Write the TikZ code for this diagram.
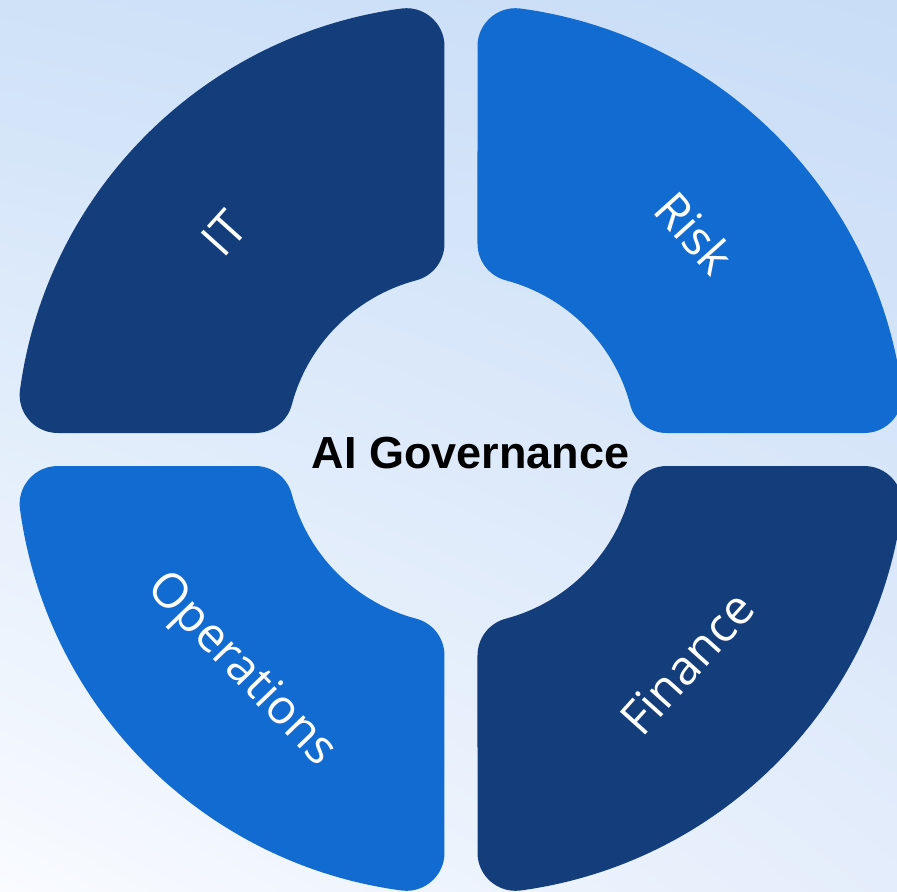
\documentclass[tikz,border=0pt]{standalone}
\usepackage{fontspec}
\setmainfont{Open Sans}
\newfontfamily\headfont{Liberation Sans}
\usetikzlibrary{calc, shadings}

\definecolor{navyseg}{HTML}{133D7B}
\definecolor{blueseg}{HTML}{116BD0}
\definecolor{bgtl}{HTML}{CFE2F8}
\definecolor{bgtr}{HTML}{C9DDF7}
\definecolor{bgbl}{HTML}{F9FBFF}
\definecolor{bgbr}{HTML}{E4EDFB}

% ring sizes
\def\gp{0.165}
\def\rr{0.38}
\def\rin{1.75}
\def\rout{4.45}
\pgfmathsetmacro{\ai}{sqrt((\rin+\rr)^2-(\gp+\rr)^2)}
\pgfmathsetmacro{\ao}{sqrt((\rout-\rr)^2-(\gp+\rr)^2)}
\pgfmathsetmacro{\thi}{atan2(\gp+\rr,\ai)}
\pgfmathsetmacro{\tho}{atan2(\gp+\rr,\ao)}

% one quarter of the ring (top right), rounded corners
\newcommand{\ringquarter}[1]{%
  \fill[#1] (\ai,\gp) -- (\ao,\gp)
    arc[start angle=-90, end angle=\tho, radius=\rr cm]
    arc[start angle=\tho, end angle=90-\tho, radius=\rout cm]
    arc[start angle=90-\tho, end angle=180, radius=\rr cm]
    -- (\gp,\ai)
    arc[start angle=180, end angle=270-\thi, radius=\rr cm]
    arc[start angle=90-\thi, end angle=\thi, radius=\rin cm]
    arc[start angle=180+\thi, end angle=270, radius=\rr cm]
    -- cycle;}

\tikzset{
  seglabel/.style={text=white, font=\fontsize{13.6}{16}\selectfont, inner sep=0pt},
  headlabel/.style={text=black, font=\headfont\bfseries\fontsize{12.8}{15}\selectfont, inner sep=0pt}
}

\begin{document}
\begin{tikzpicture}
  % Background
  \useasboundingbox (-4.61,-4.415) rectangle (4.36,4.495);
  \shade[upper left=bgtl, upper right=bgtr, lower left=bgbl, lower right=bgbr]
    (-4.61,-4.415) rectangle (4.36,4.495);

  % Draw the four parts of the ring
  \ringquarter{blueseg}
  \begin{scope}[xscale=-1]
    \ringquarter{navyseg}
  \end{scope}
  \begin{scope}[scale=-1]
    \ringquarter{blueseg}
  \end{scope}
  \begin{scope}[yscale=-1]
    \ringquarter{navyseg}
  \end{scope}

  % Labels
  \node[seglabel, rotate=48] (it) at (137.6:3.21) {IT};
  \node[seglabel, rotate=-48] (risk) at (42.8:3.19) {Risk};
  \node[seglabel, rotate=-46] (ops) at (225.1:3.12) {Operations};
  \node[seglabel, rotate=48] (fin) at (316.6:3.11) {Finance};

  % Center title
  \node[headlabel] (title) at (0.095,-0.04) {AI Governance};
\end{tikzpicture}
\end{document}
